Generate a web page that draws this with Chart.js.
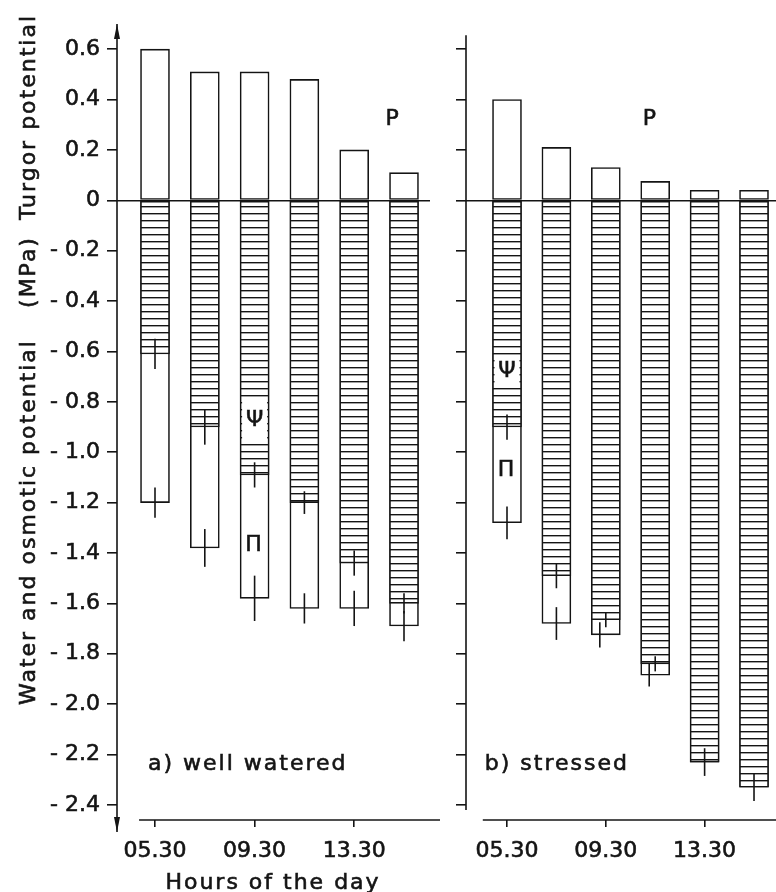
<!DOCTYPE html>
<html>
<head>
<meta charset="utf-8">
<script src="https://cdn.jsdelivr.net/npm/chart.js@4.4.0/dist/chart.umd.min.js"></script>
<style>
  html, body { margin: 0; padding: 0; background: #fff; }
  #wrap { position: relative; width: 776px; height: 892px; overflow: hidden; }
  #cLeft { position: absolute; left: 0; top: 0; }
  #cRight { position: absolute; left: 440px; top: 0; }
</style>
</head>
<body>
<div id="wrap">
  <canvas id="cLeft" width="440" height="892"></canvas>
  <canvas id="cRight" width="336" height="892"></canvas>
</div>
<script>
// hours of sampling (every other one is labelled)
const times = ['05.30', '07.30', '09.30', '11.30', '13.30', '15.30'];
const labelledTimes = [0, 2, 4];
const yTicks = [0.6, 0.4, 0.2, 0, -0.2, -0.4, -0.6, -0.8, -1.0, -1.2, -1.4, -1.6, -1.8, -2.0, -2.2, -2.4];

// a) well watered
const wellTurgor = [0.60, 0.51, 0.51, 0.48, 0.20, 0.11];
const wellWater = [-0.61, -0.90, -1.09, -1.20, -1.44, -1.60];
const wellOsmotic = [-1.20, -1.38, -1.58, -1.62, -1.62, -1.69];
const wellWaterErr = [0.06, 0.07, 0.05, 0.045, 0.05, 0.04];
const wellOsmoticErr = [0.06, 0.075, 0.09, 0.06, 0.07, 0.06];

// b) stressed
const stressTurgor = [0.40, 0.21, 0.13, 0.075, 0.04, 0.04];
const stressWater = [-0.90, -1.49, -1.665, -1.84, -2.23, -2.33];
const stressOsmotic = [-1.28, -1.68, -1.725, -1.885, -2.23, -2.33];
const stressWaterErr = [0.05, 0.05, 0.03, 0.03, 0.055, 0.055];
const stressOsmoticErr = [0.065, 0.065, 0.05, 0.045, 0, 0];

const ink = '#141414';
const FONT = 'DejaVu Sans';
Chart.defaults.font.family = FONT;
Chart.defaults.font.size = 22;
Chart.defaults.color = ink;

// horizontal hatching for the water potential bars
function hatch() {
  const c = document.createElement('canvas');
  c.width = 4; c.height = 7;
  const g = c.getContext('2d');
  g.fillStyle = '#fff';
  g.fillRect(0, 0, 4, 7);
  g.fillStyle = ink;
  g.fillRect(0, 3, 4, 1.4);
  return g.createPattern(c, 'repeat');
}

function pts(arr) {
  return arr.map((v, i) => ({ x: i, y: v }));
}

function label(ctx, text, x, y) {
  ctx.strokeText(text, x, y);
  ctx.fillText(text, x, y);
}

function decor(opt) {
  return {
    id: 'decor',
    afterDatasetsDraw(chart) {
      const ctx = chart.ctx, xs = chart.scales.x, ys = chart.scales.y, area = chart.chartArea;
      ctx.save();
      ctx.strokeStyle = ink;
      ctx.fillStyle = ink;
      ctx.lineWidth = 1.6;

      // error bars (osmotic ones nudged sideways where they would overlap)
      [[opt.water, opt.waterErr, {}], [opt.osmotic, opt.osmoticErr, opt.osmoticShift || {}]].forEach(([vals, errs, shift]) => {
        vals.forEach((v, i) => {
          if (!errs[i]) return;
          const px = xs.getPixelForValue(i) + (shift[i] || 0);
          ctx.beginPath();
          ctx.moveTo(px, ys.getPixelForValue(v + errs[i]));
          ctx.lineTo(px, ys.getPixelForValue(v - errs[i]));
          ctx.stroke();
        });
      });

      // y axis line
      const ax = area.left;
      const top = opt.arrows ? area.top : ys.getPixelForValue(opt.axisTop);
      const bot = opt.arrows ? area.bottom + 12 : ys.getPixelForValue(opt.axisBottom);
      ctx.beginPath();
      ctx.moveTo(ax, top);
      ctx.lineTo(ax, bot);
      ctx.stroke();
      if (opt.arrows) {
        ctx.beginPath();
        ctx.moveTo(ax, top); ctx.lineTo(ax - 3, top + 15); ctx.lineTo(ax + 3, top + 15); ctx.closePath();
        ctx.fill();
        ctx.beginPath();
        ctx.moveTo(ax, bot); ctx.lineTo(ax - 3, bot - 15); ctx.lineTo(ax + 3, bot - 15); ctx.closePath();
        ctx.fill();
      }

      // bottom line of the x axis
      ctx.beginPath();
      ctx.moveTo(xs.getPixelForValue(opt.baseStart), area.bottom);
      ctx.lineTo(chart.width, area.bottom);
      ctx.stroke();

      // psi symbol in a white box inside the hatched bar
      const bar = chart.getDatasetMeta(0).data[opt.psiBox.i];
      const y1 = ys.getPixelForValue(opt.psiBox.from), y2 = ys.getPixelForValue(opt.psiBox.to);
      ctx.fillStyle = '#fff';
      ctx.fillRect(bar.x - bar.width / 2 + 2, y1, bar.width - 4, y2 - y1);
      ctx.fillStyle = ink;
      ctx.lineWidth = 0.6;
      ctx.font = '22px ' + FONT;
      ctx.textAlign = 'center';
      ctx.textBaseline = 'middle';
      label(ctx, 'Ψ', bar.x, (y1 + y2) / 2);

      // text notes
      ctx.letterSpacing = '2px';
      opt.notes.forEach(n => {
        ctx.textAlign = n.align || 'center';
        label(ctx, n.text, xs.getPixelForValue(n.x), ys.getPixelForValue(n.y));
      });

      if (opt.titles) {
        ctx.textAlign = 'center';
        label(ctx, 'Hours of the day', 273, 883);
        ctx.translate(29, 0);
        ctx.rotate(-Math.PI / 2);
        label(ctx, 'Turgor potential', -117, 0);
        label(ctx, '(MPa)', -272, 0);
        label(ctx, 'Water and osmotic potential', -522, 0);
      }
      ctx.restore();
    }
  };
}

function makeChart(el, d, opt) {
  const pattern = hatch();
  return new Chart(el, {
    type: 'bar',
    data: {
      datasets: [
        { label: 'Ψ', data: pts(d.water), backgroundColor: pattern, order: 0 },
        { label: 'Π', data: pts(d.osmotic), backgroundColor: '#fff', order: 1 },
        { label: 'P', data: pts(d.turgor), backgroundColor: '#fff', order: 2 }
      ]
    },
    options: {
      responsive: false,
      animation: false,
      events: [],
      layout: { padding: { top: 24, right: opt.padRight, left: 0, bottom: 0 } },
      datasets: {
        bar: { grouped: false, barThickness: 29, borderColor: ink, borderWidth: 1.6, borderSkipped: false }
      },
      plugins: { legend: { display: false }, tooltip: { enabled: false } },
      scales: {
        x: {
          type: 'linear',
          offset: false,
          min: opt.xMin, max: opt.xMax,
          afterBuildTicks: s => { s.ticks = labelledTimes.map(v => ({ value: v })); },
          afterFit: s => { s.height = 72; },
          ticks: {
            callback: v => times[v], padding: 11, maxRotation: 0, autoSkip: false,
            textStrokeColor: ink, textStrokeWidth: 0.6
          },
          grid: { offset: false, drawOnChartArea: false, tickLength: 7, color: ink, lineWidth: 1.6 },
          border: { display: false }
        },
        y: {
          min: -2.46, max: 0.7,
          afterBuildTicks: s => { s.ticks = yTicks.map(v => ({ value: v })); },
          afterFit: s => { s.width = opt.yWidth; },
          ticks: {
            display: opt.yLabels,
            padding: 7,
            textStrokeColor: ink, textStrokeWidth: 0.6,
            callback: v => v === 0 ? '0' : (v < 0 ? '- ' + Math.abs(v).toFixed(1) : v.toFixed(1))
          },
          grid: {
            tickLength: 10,
            lineWidth: 1.6,
            color: c => (c.tick && c.tick.value === 0 ? ink : 'rgba(0,0,0,0)'),
            tickColor: ink
          },
          border: { display: false }
        }
      }
    },
    plugins: [decor(Object.assign({}, d, opt))]
  });
}

makeChart(document.getElementById('cLeft'),
  { turgor: wellTurgor, water: wellWater, osmotic: wellOsmotic, waterErr: wellWaterErr, osmoticErr: wellOsmoticErr },
  {
    xMin: -0.763, xMax: 5.522, padRight: 10, yWidth: 117, yLabels: true, arrows: true, titles: true,
    baseStart: -0.32,
    psiBox: { i: 2, from: -0.785, to: -0.965 },
    notes: [
      { text: 'P', x: 4.78, y: 0.32 },
      { text: 'Π', x: 2, y: -1.37 },
      { text: 'a) well watered', x: -0.14, y: -2.24, align: 'left' }
    ]
  });

makeChart(document.getElementById('cRight'),
  { turgor: stressTurgor, water: stressWater, osmotic: stressOsmotic, waterErr: stressWaterErr, osmoticErr: stressOsmoticErr },
  {
    xMin: -0.83, xMax: 5.445, padRight: 0, yWidth: 26, yLabels: false, arrows: false, titles: false,
    axisTop: 0.655, axisBottom: -2.42, baseStart: -0.49,
    osmoticShift: { 2: -6, 3: -6 },
    psiBox: { i: 0, from: -0.62, to: -0.74 },
    notes: [
      { text: 'P', x: 2.9, y: 0.32 },
      { text: 'Π', x: 0, y: -1.07 },
      { text: 'b) stressed', x: -0.45, y: -2.24, align: 'left' }
    ]
  });
</script>
</body>
</html>
